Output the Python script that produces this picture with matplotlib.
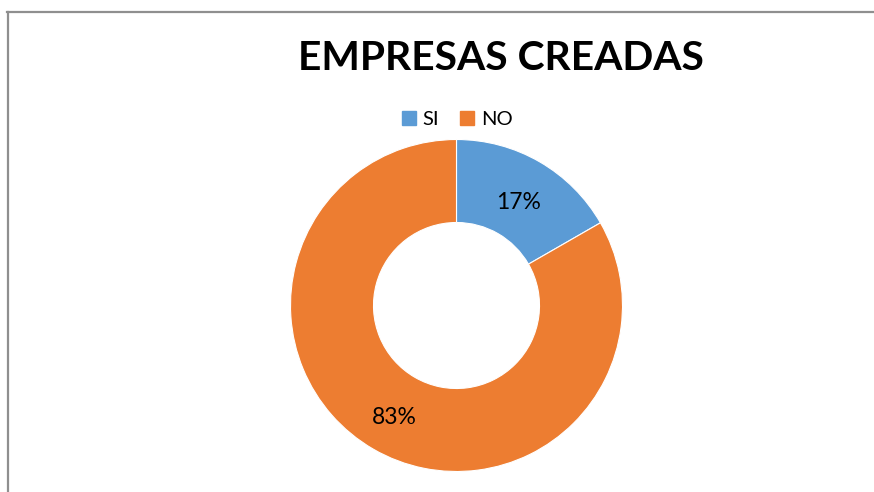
import matplotlib
matplotlib.use("Agg")
import matplotlib.pyplot as plt
from matplotlib.lines import Line2D
import numpy as np

categories = ["SI", "NO"]
values = [16.7, 83.3]
pct_labels = ["17%", "83%"]
colors = ["#5B9BD5", "#ED7D31"]
title = "EMPRESAS CREADAS"

W, H = 874, 492
fig = plt.figure(figsize=(W / 100, H / 100), dpi=100)
fig.patch.set_facecolor("white")
FONT = "Lato"

# chart frame (left and top edges visible)
fig.add_artist(Line2D([7.5 / W, 7.5 / W], [0, 1 - 12 / H], color="#8f8f8f", lw=1.6, transform=fig.transFigure))
fig.add_artist(Line2D([7 / W, 873 / W], [1 - 12 / H, 1 - 12 / H], color="#8f8f8f", lw=1.6, transform=fig.transFigure))

cx, cy, R = 456.5, 305.5, 166
ax = fig.add_axes([(cx - R) / W, (H - cy - R) / H, 2 * R / W, 2 * R / H])
wedges, _ = ax.pie(values, colors=colors, startangle=90, counterclock=False, radius=1,
                   wedgeprops=dict(width=0.5, edgecolor="white", linewidth=0.8))
ax.set_xlim(-1, 1)
ax.set_ylim(-1, 1)
ax.set_aspect("equal")
ax.axis("off")

total = sum(values)
start = 90.0
for v, lab in zip(values, pct_labels):
    ang = np.deg2rad(start - v / total * 360 / 2)
    r = 0.75
    ax.text(r * np.cos(ang), r * np.sin(ang) - 11 / R, lab, ha="center", va="baseline",
            fontsize=16.5, family=FONT, color="black")
    start -= v / total * 360

fig.text(500.5 / W, 1 - 70.5 / H, title, ha="center", va="baseline", fontsize=29.3,
         fontweight="bold", family=FONT, color="black")

handles = [Line2D([], [], marker="s", linestyle="none", markersize=10, markerfacecolor=c,
                  markeredgecolor=c) for c in colors]
fig.legend(handles, categories, loc="center", bbox_to_anchor=(456 / W, 1 - 119 / H), ncol=2,
           frameon=False, prop=dict(family=FONT, size=14.5), handletextpad=0.25,
           columnspacing=0.9, handlelength=0.9, borderaxespad=0)

fig.savefig("out.png", dpi=100, facecolor="white")
